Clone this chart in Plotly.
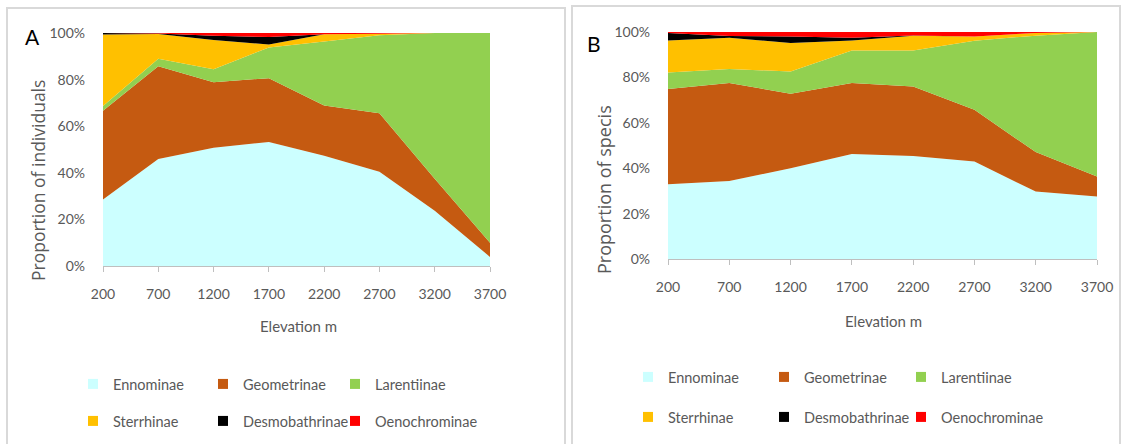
import plotly.graph_objects as go

elevation = [200, 700, 1200, 1700, 2200, 2700, 3200, 3700]
subfamilies = ["Ennominae", "Geometrinae", "Larentiinae", "Sterrhinae", "Desmobathrinae", "Oenochrominae"]
colors = ["#CCFFFF", "#C55A11", "#92D050", "#FFC000", "#000000", "#FF0000"]

# Panel A: proportion of individuals (%)
ind_ennominae = [28.5, 45.9, 50.8, 53.2, 47.3, 40.5, 23.7, 3.9]
ind_geometrinae = [38.1, 39.8, 28.1, 27.4, 21.6, 25.1, 13.8, 6.1]
ind_larentiinae = [2.1, 3.3, 5.5, 13.2, 27.5, 33.4, 62.5, 90.0]
ind_sterrhinae = [30.7, 10.6, 12.6, 1.3, 3.1, 0.7, 0.0, 0.0]
ind_desmobathrinae = [0.6, 0.2, 1.8, 3.2, 0.0, 0.0, 0.0, 0.0]
ind_oenochrominae = [0.0, 0.2, 1.2, 1.7, 0.5, 0.3, 0.0, 0.0]

# Panel B: proportion of species (%)
sp_ennominae = [32.9, 34.4, 40.0, 46.3, 45.4, 42.9, 29.7, 27.5]
sp_geometrinae = [42.0, 43.1, 32.8, 31.2, 30.6, 22.8, 17.4, 8.8]
sp_larentiinae = [7.3, 6.2, 9.8, 14.4, 15.9, 30.5, 51.3, 63.7]
sp_sterrhinae = [14.1, 13.8, 12.5, 4.4, 6.5, 1.8, 1.2, 0.0]
sp_desmobathrinae = [3.3, 0.7, 2.9, 1.2, 0.1, 0.0, 0.0, 0.0]
sp_oenochrominae = [0.4, 1.8, 2.0, 2.5, 1.5, 2.0, 0.4, 0.0]

yticks = [0, 20, 40, 60, 80, 100]
ytick_text = ["0%", "20%", "40%", "60%", "80%", "100%"]

W, H = 1128, 444
FONT = "Lato"
TFONT = "Open Sans"
GREY = "#595959"


def px(x):
    return x / W


def py(y):
    return 1 - y / H


fig = go.Figure()

ind = [ind_ennominae, ind_geometrinae, ind_larentiinae, ind_sterrhinae, ind_desmobathrinae, ind_oenochrominae]
sp = [sp_ennominae, sp_geometrinae, sp_larentiinae, sp_sterrhinae, sp_desmobathrinae, sp_oenochrominae]

for name, col, vals in zip(subfamilies, colors, ind):
    fig.add_trace(go.Scatter(x=elevation, y=vals, name=name, mode="none", stackgroup="a",
                             fillcolor=col, showlegend=False, xaxis="x", yaxis="y",
                             hoverinfo="x+y+name"))
for name, col, vals in zip(subfamilies, colors, sp):
    fig.add_trace(go.Scatter(x=elevation, y=vals, name=name, mode="none", stackgroup="b",
                             fillcolor=col, showlegend=False, xaxis="x2", yaxis="y2",
                             hoverinfo="x+y+name"))

# one legend per entry, arranged as 2 rows x 3 columns under each panel
leg_text_x = [[113, 243, 375], [668, 804, 941]]
leg_row_y = [[384, 421], [377, 417]]
leg_common = dict(orientation="h", xanchor="left", yanchor="middle",
                  bgcolor="rgba(0,0,0,0)", traceorder="normal",
                  font=dict(family=FONT, size=14.5, color=GREY), itemwidth=30)
legends = {}
n = 0
for p, (xa, ya) in enumerate([("x", "y"), ("x2", "y2")]):
    for i, (name, col) in enumerate(zip(subfamilies, colors)):
        n += 1
        lid = "legend" if n == 1 else f"legend{n}"
        legends[lid] = dict(x=px(leg_text_x[p][i % 3] - 40), y=py(leg_row_y[p][i // 3]), **leg_common)
        fig.add_trace(go.Scatter(x=[None], y=[None], name=name, mode="markers",
                                 marker=dict(symbol="square", size=10, color=col,
                                             line=dict(width=0)),
                                 legend=lid, xaxis=xa, yaxis=ya))
fig.update_layout(**legends)

axis_common = dict(showgrid=False, zeroline=False, color=GREY,
                   tickfont=dict(family=FONT, size=14, color=GREY))

fig.update_layout(
    width=W, height=H,
    margin=dict(l=0, r=0, t=0, b=0, autoexpand=False),
    paper_bgcolor="white", plot_bgcolor="white",
    font=dict(family=FONT, color=GREY, size=15),
    xaxis=dict(domain=[px(103), px(490)], range=[200, 3700], tickvals=elevation,
               showline=True, linecolor="#BFBFBF", linewidth=1, ticks="outside",
               ticklen=5, tickcolor="#BFBFBF", ticklabelstandoff=10, anchor="y", **axis_common),
    yaxis=dict(domain=[py(266), py(33)], range=[0, 100], tickvals=yticks, ticktext=ytick_text,
               showline=False, ticks="", ticklabelstandoff=17, anchor="x", **axis_common),
    xaxis2=dict(domain=[px(668), px(1097)], range=[200, 3700], tickvals=elevation,
                showline=True, linecolor="#BFBFBF", linewidth=1, ticks="outside",
                ticklen=5, tickcolor="#BFBFBF", ticklabelstandoff=10, anchor="y2", **axis_common),
    yaxis2=dict(domain=[py(259), py(32)], range=[0, 100], tickvals=yticks, ticktext=ytick_text,
                showline=False, ticks="", ticklabelstandoff=17, anchor="x2", **axis_common),
)

# panel frames
fig.add_shape(type="rect", xref="paper", yref="paper", x0=px(7), x1=px(565), y0=py(446), y1=py(8),
              line=dict(color="#D9D9D9", width=2), fillcolor="rgba(0,0,0,0)", layer="below")
fig.add_shape(type="rect", xref="paper", yref="paper", x0=px(572), x1=px(1120), y0=py(446), y1=py(6),
              line=dict(color="#D9D9D9", width=2), fillcolor="rgba(0,0,0,0)", layer="below")

ann = [
    dict(text="A", x=px(32), y=py(36), font=dict(size=21, color="black", family=FONT)),
    dict(text="B", x=px(594), y=py(43), font=dict(size=21, color="black", family=FONT)),
    dict(text="Elevation m", x=px(298), y=py(326), font=dict(size=15, color=GREY, family=FONT)),
    dict(text="Elevation m", x=px(883), y=py(321), font=dict(size=15, color=GREY, family=FONT)),
    dict(text="Proportion of individuals", x=px(38), y=py(181), textangle=-90,
         font=dict(size=17.5, color=GREY, family=TFONT)),
    dict(text="Proportion of specis", x=px(604), y=py(190), textangle=-90,
         font=dict(size=18, color=GREY, family=TFONT)),
]
for a in ann:
    fig.add_annotation(xref="paper", yref="paper", showarrow=False, xanchor="center", yanchor="middle", **a)

fig.write_html("out.html", config={"displayModeBar": False},
               post_script="document.body.style.margin='0';")
